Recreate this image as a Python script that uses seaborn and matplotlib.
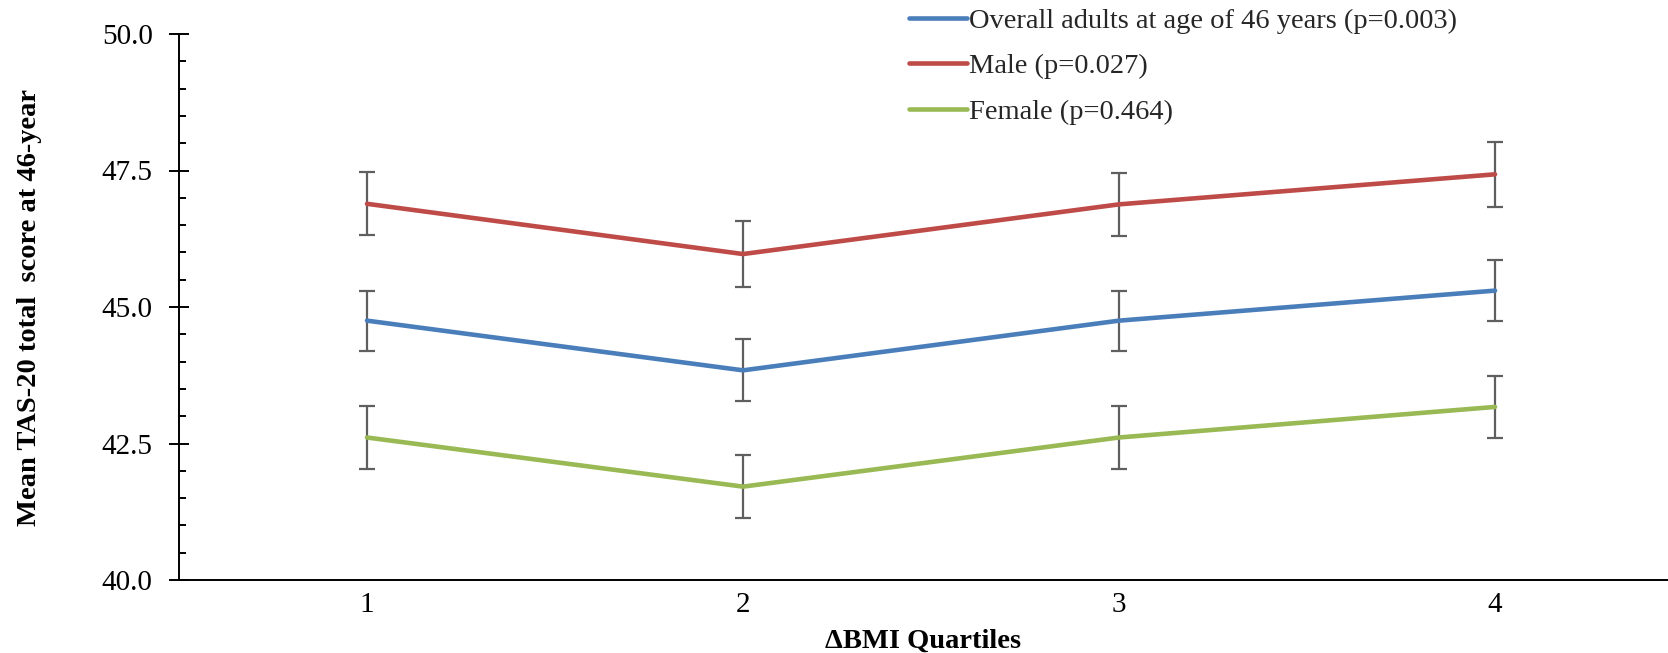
import matplotlib
matplotlib.use("Agg")
import matplotlib.pyplot as plt
import seaborn as sns
import pandas as pd
from matplotlib.ticker import MultipleLocator
from matplotlib.lines import Line2D

quartiles = [1, 2, 3, 4]
series_names = ["Overall adults at age of 46 years (p=0.003)", "Male (p=0.027)", "Female (p=0.464)"]
overall = [44.75, 43.84, 44.75, 45.30]
overall_err = [0.55, 0.57, 0.55, 0.56]
male = [46.89, 45.97, 46.88, 47.43]
male_err = [0.58, 0.60, 0.58, 0.60]
female = [42.61, 41.71, 42.61, 43.17]
female_err = [0.57, 0.58, 0.57, 0.57]
yticks = [40.0, 42.5, 45.0, 47.5, 50.0]

colors = ["#4A7EBB", "#BE4B48", "#98B954"]

sns.set_theme(style="white")
plt.rcParams["font.family"] = ["Liberation Serif", "DejaVu Serif"]

rows = []
for name, vals in zip(series_names, [overall, male, female]):
    for q, v in zip(quartiles, vals):
        rows.append({"Quartile": q, "Score": v, "Series": name})
df = pd.DataFrame(rows)

fig = plt.figure(figsize=(16.68, 6.53), dpi=100)
ax = fig.add_axes([179 / 1668, 1 - 580 / 653, 1 - 179 / 1668, (580 - 34) / 653])

for vals, errs in zip([overall, male, female], [overall_err, male_err, female_err]):
    ax.errorbar(quartiles, vals, yerr=errs, fmt="none", ecolor="#5F5F5F",
                elinewidth=1.6, capsize=6, capthick=1.6, zorder=2)

sns.lineplot(data=df, x="Quartile", y="Score", hue="Series", hue_order=series_names,
             palette=colors, linewidth=3.3, ax=ax, legend=False, zorder=3,
             solid_capstyle="round")

ax.set_xlim(0.5, 4.46)
ax.set_ylim(40, 50)
ax.set_xticks(quartiles)
ax.set_xticklabels([str(q) for q in quartiles])
ax.set_yticks(yticks)
ax.set_yticklabels([f"{t:.1f}" for t in yticks])
ax.yaxis.set_minor_locator(MultipleLocator(0.5))

for s in ["top", "right"]:
    ax.spines[s].set_visible(False)
for s in ["left", "bottom"]:
    ax.spines[s].set_color("black")
    ax.spines[s].set_linewidth(1.4)

ax.tick_params(axis="y", which="major", direction="inout", length=14, width=1.4,
               color="black", labelsize=21, pad=12, left=True)
ax.tick_params(axis="y", which="minor", direction="in", length=5, width=1.4,
               color="black", left=True)
ax.tick_params(axis="x", which="both", length=0, labelsize=21, pad=9)
for lab in ax.get_xticklabels() + ax.get_yticklabels():
    lab.set_color("black")

ax.set_xlabel("ΔBMI Quartiles", fontsize=20.5, fontweight="bold", color="black")
ax.set_ylabel("Mean TAS-20 total  score at 46-year", fontsize=20.5, fontweight="bold",
              color="black")
ax.xaxis.set_label_coords(0.5, -(641 - 580) / 546, transform=ax.transAxes)
ax.xaxis.label.set_va("center")
ax.yaxis.set_label_coords(-(179 - 30) / 1489, (580 - 307) / 546, transform=ax.transAxes)
ax.yaxis.label.set_va("center")

handles = [Line2D([0], [0], color=c, linewidth=3.3, solid_capstyle="round") for c in colors]
leg = fig.legend(handles, series_names, loc="upper left",
                 bbox_to_anchor=(909 / 1668, 1 - 8 / 653),
                 frameon=False, fontsize=20.5, handlelength=2.05, handletextpad=0.05,
                 labelspacing=0.68, borderaxespad=0.0, borderpad=0.0)

fig.savefig("out.png", dpi=100)
